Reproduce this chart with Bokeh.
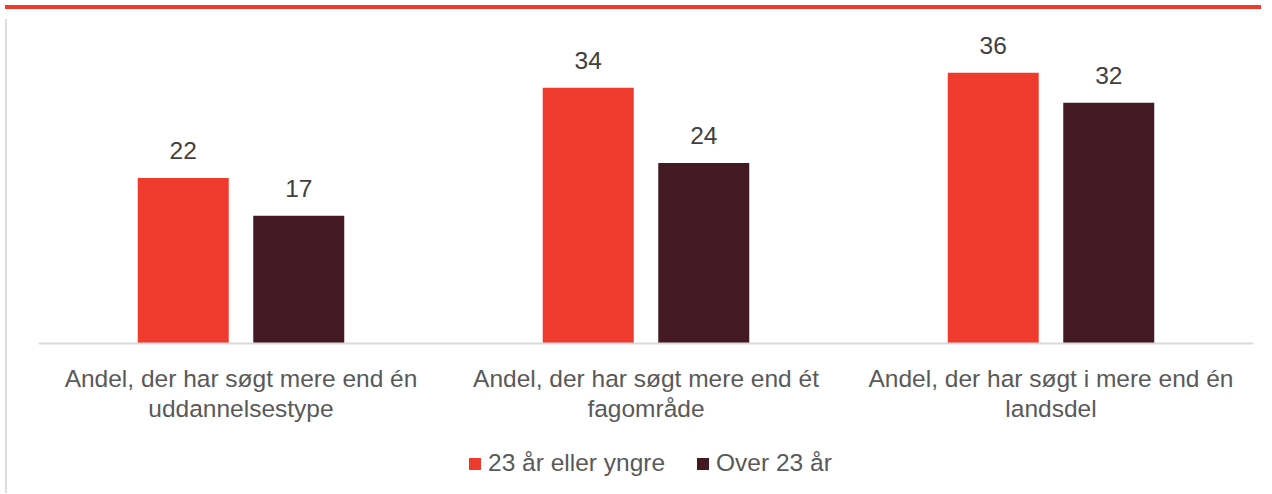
from bokeh.plotting import figure
from bokeh.models import ColumnDataSource, Range1d, FactorRange, Span, Div, Legend, LegendItem
from bokeh.layouts import column, row
from bokeh.transform import dodge
from bokeh.core.properties import value
from bokeh.embed import file_html
from bokeh.resources import INLINE

categories = [
    "Andel, der har søgt mere end én\nuddannelsestype",
    "Andel, der har søgt mere end ét\nfagområde",
    "Andel, der har søgt i mere end én\nlandsdel",
]
series_names = ["23 år eller yngre", "Over 23 år"]
young = [22, 34, 36]
older = [17, 24, 32]

RED = "#EF3B2D"
DARK = "#431A24"
FONT = "Liberation Sans"

src = ColumnDataSource(dict(
    cat=categories,
    young=young,
    older=older,
    young_lbl=[str(v) for v in young],
    older_lbl=[str(v) for v in older],
    base=[0] * len(categories),
))

p = figure(
    width=1254, height=474,
    x_range=FactorRange(*categories),
    y_range=Range1d(-19.28, 43.75),
    output_backend="svg", toolbar_location=None,
    x_axis_location=None, y_axis_location=None,
    min_border_left=26, min_border_right=13, min_border_top=0, min_border_bottom=0,
)
p.outline_line_color = None
p.grid.visible = False
p.background_fill_color = "white"
p.border_fill_color = "white"

r1 = p.vbar(x=dodge("cat", -0.1426, range=p.x_range), top="young", width=0.2247,
            source=src, fill_color=RED, line_color=None)
r2 = p.vbar(x=dodge("cat", 0.1426, range=p.x_range), top="older", width=0.2247,
            source=src, fill_color=DARK, line_color=None)

p.add_layout(Span(location=0, dimension="width", line_color="#d9d9d9", line_width=2))

lbl_kw = dict(text_font=value(FONT), text_font_size="24.5px", text_color="#404040",
              text_align="center", text_baseline="alphabetic", y_offset=-27.5)
p.text(x=dodge("cat", -0.1426, range=p.x_range), y="young", text="young_lbl", source=src, **lbl_kw)
p.text(x=dodge("cat", 0.1426, range=p.x_range), y="older", text="older_lbl", source=src, **lbl_kw)

p.text(x="cat", y="base", text="cat", source=src, text_font=value(FONT),
       text_font_size="24.5px", text_color="#595959", text_align="center",
       text_baseline="top", y_offset=21, text_line_height=1.14)

legend = Legend(items=[LegendItem(label=series_names[0], renderers=[r1]),
                       LegendItem(label=series_names[1], renderers=[r2])],
                orientation="horizontal", location=(429, 11),
                glyph_width=15, glyph_height=15, label_standoff=6, spacing=30,
                padding=0, margin=0, border_line_alpha=0, background_fill_alpha=0,
                label_text_font=FONT, label_text_font_size="24.5px",
                label_text_color="#595959")
p.add_layout(legend)

band = Div(text="", width=1256, height=4, styles={"background-color": RED})
vline = Div(text="", width=2, height=474, styles={"background-color": "#dcdcdc"})
layout = column(band, row(vline, p, spacing=0), spacing=0)

open("out.html", "w").write(file_html(layout, INLINE))
